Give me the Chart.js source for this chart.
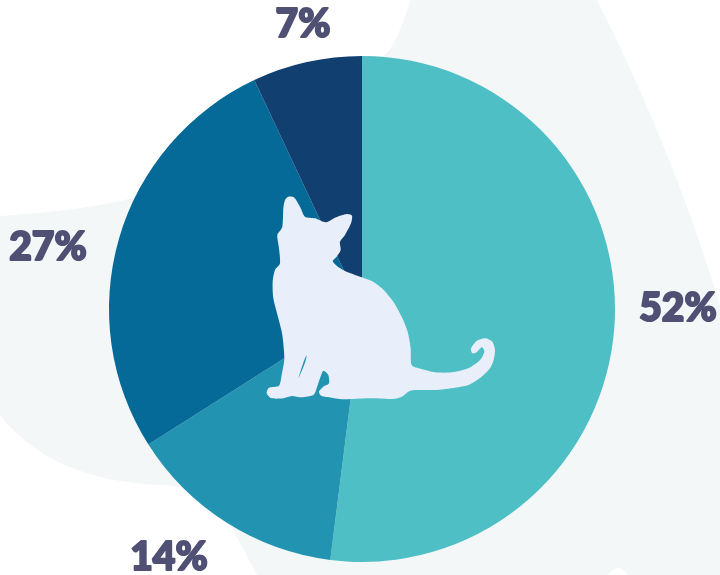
<!DOCTYPE html>
<html>
<head>
<meta charset="utf-8">
<style>html,body{margin:0;padding:0;background:#fff;overflow:hidden}canvas{display:block}</style>
<script src="https://cdn.jsdelivr.net/npm/chart.js@4"></script>
</head>
<body>
<canvas id="c" width="720" height="575"></canvas>
<script>
const categories = ["A", "B", "C", "D"];
const values = [52, 14, 27, 7];
const sliceColors = ["#4FBFC6", "#2294B2", "#056A97", "#113F70"];
const labelTexts = ["52%", "14%", "27%", "7%"];
const labelCentres = [[678, 308], [169, 557], [48, 247], [303, 24]];

function smooth(ctx, pts) {
  const n = pts.length, t = 1/8;
  ctx.moveTo(pts[0][0], pts[0][1]);
  for (let i = 0; i < n; i++) {
    const p0 = pts[(i-1+n)%n], p1 = pts[i], p2 = pts[(i+1)%n], p3 = pts[(i+2)%n];
    ctx.bezierCurveTo(p1[0]+(p2[0]-p0[0])*t, p1[1]+(p2[1]-p0[1])*t,
                      p2[0]-(p3[0]-p1[0])*t, p2[1]-(p3[1]-p1[1])*t, p2[0], p2[1]);
  }
  ctx.closePath();
}
const catOutline = [[100,35],[118,38],[135,65],[150,95],[180,100],[212,112],[240,98],[275,87],[291,92],[288,115],[270,150],[255,170],[257,195],[245,215],[233,228],[245,242],[270,258],[320,277],[352,289],[385,314],[415,350],[440,395],[458,440],[467,490],[470,540],[500,552],[540,562],[590,562],[640,550],[675,525],[688,500],[680,487],[665,502],[652,505],[648,490],[665,468],[690,460],[712,470],[720,495],[716,525],[705,550],[680,575],[640,600],[600,608],[540,615],[480,615],[460,620],[440,635],[410,642],[340,640],[270,643],[230,638],[200,633],[192,620],[205,605],[222,595],[220,570],[205,557],[195,580],[185,610],[175,630],[140,637],[110,633],[85,640],[50,640],[35,625],[42,608],[72,602],[80,570],[88,520],[82,450],[70,400],[55,340],[53,290],[60,255],[75,235],[72,190],[67,150],[82,125],[85,70],[90,45]];
const catSlit = [[155,511],[146,530],[130,580],[141,556],[151,530]];

const decor = {
  id: "decor",
  beforeDraw(chart) {
    const c = chart.ctx;
    c.save();
    c.fillStyle = "#F3F7F8";
    c.beginPath();
    c.moveTo(411, 0);
    c.lineTo(597, 0);
    c.bezierCurveTo(640, 85, 685, 190, 720, 305);
    c.lineTo(720, 575);
    c.lineTo(628, 575);
    c.quadraticCurveTo(618, 561, 608, 575);
    c.lineTo(257, 575);
    c.lineTo(233, 530);
    c.bezierCurveTo(220, 500, 200, 486, 160, 485);
    c.bezierCurveTo(90, 482, 35, 460, 0, 415);
    c.lineTo(0, 216);
    c.bezierCurveTo(60, 212, 110, 205, 135, 197);
    c.lineTo(362, 60);
    c.lineTo(385, 55);
    c.bezierCurveTo(395, 45, 398, 35, 411, 0);
    c.closePath();
    c.fill();
    c.restore();
  },
  afterDraw(chart) {
    const c = chart.ctx;
    c.save();
    c.translate(255, 185);
    c.scale(1/3, 1/3);
    c.fillStyle = "#E8EFFA";
    c.beginPath();
    smooth(c, catOutline);
    smooth(c, catSlit);
    c.fill("evenodd");
    c.restore();
    c.save();
    c.fillStyle = "#4F5073";
    c.strokeStyle = "#4F5073";
    c.lineWidth = 2;
    c.lineJoin = "round";
    c.font = "900 39px Lato";
    c.textAlign = "center";
    c.textBaseline = "middle";
    labelTexts.forEach((t, i) => {
      c.strokeText(t, labelCentres[i][0], labelCentres[i][1]);
      c.fillText(t, labelCentres[i][0], labelCentres[i][1]);
    });
    c.restore();
  }
};

new Chart(document.getElementById("c"), {
  type: "pie",
  data: {
    labels: categories,
    datasets: [{ data: values, backgroundColor: sliceColors, borderWidth: 0, hoverOffset: 0 }]
  },
  options: {
    responsive: false,
    animation: false,
    layout: { padding: { left: 109, right: 105, top: 56, bottom: 13 } },
    plugins: { legend: { display: false }, tooltip: { enabled: false }, title: { display: false } }
  },
  plugins: [decor]
});
</script>
</body>
</html>
